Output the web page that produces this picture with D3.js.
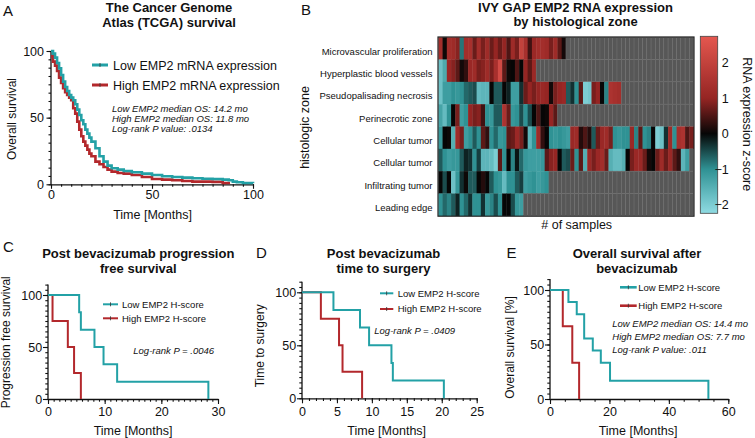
<!DOCTYPE html>
<html><head><meta charset="utf-8">
<script src="https://cdn.jsdelivr.net/npm/d3@7"></script>
<style>
body{margin:0;background:#fff;}
svg{display:block;font-family:"Liberation Sans",Arial,Helvetica,sans-serif;}
</style></head><body>
<svg id="c" width="755" height="438"></svg>
<script>
// ---------- DATA ----------
const tcgaLowTime  = [0,1,2,3,4,5,6,7,8,9,10,11,12,13,14,15,16,17,18,19,20,22,24,26,28,30,33,36,40,45,50,55,60,65,70,75,80,85,88,90,92,95,100];
const tcgaLowSurv  = [100,98,95,91,87,82,77,73,70,67,65,63,60,56,52,48,45,41,38,35,32,27,21,17,14,12,11,10,9,8,7,6,5.5,5,4.5,4.2,4,3.5,3,2,1.5,1,0.8];
const tcgaHighTime = [0,1,2,3,4,5,6,7,8,9,10,11,12,13,14,15,16,17,18,19,20,22,24,26,28,30,33,36,40,45,50,55,60,65,70,75,80,85,88];
const tcgaHighSurv = [96,92,89,85,80,76,72,69,67,65,63,57,53,47,41,36,32,29,26,23,21,17,15,13,11,9.5,8.5,8,7,5.5,4,3.5,3,2.5,2,2,1.8,1,0];

const pfsLowTime  = [0,5.5,5.8,8.2,9.8,12.2,28.3];
const pfsLowSurv  = [100,83.3,66.7,50,33.3,16.7,0];
const pfsHighTime = [0,0.8,3.5,4.6,5.8];
const pfsHighSurv = [100,75,50,25,0];

const ttsLowTime  = [0,4.5,8.3,9.6,12.8,13.0,20.3];
const ttsLowSurv  = [100,83.3,66.7,50,33.3,16.7,0];
const ttsHighTime = [0,2.7,5.3,5.8,8.6];
const ttsHighSurv = [100,75,50,25,0];

const osLowTime  = [0,6.2,9.0,11.5,14.4,17.1,20.2,53.3];
const osLowSurv  = [100,88.9,77.8,55.6,44.4,33.3,16.7,0];
const osHighTime = [0,4.3,7.5,9.8];
const osHighSurv = [100,66.7,33.3,0];

const zoneLabels = ["Microvascular proliferation","Hyperplastic blood vessels","Pseudopalisading necrosis","Perinecrotic zone","Cellular tumor","Cellular tumor","Infiltrating tumor","Leading edge"];
const zoneMicro   = [1.3,0.05,1.3,1.2,0.9,-0.8,1.3,1.4,0.7,1.3,0.8,1.2,0.7,1.0,0.7,1.0,0.5,1.2,0.8,2.0,1.4,0.4,1.1,1.3,1.3,1.2,0.8,1.2,0.6,0.1];
const zoneHyper   = [-1.8,-1.4,1.1,0.9,0.6,0.1,0.3,1.1,1.2,0.8,0.9,1.2,0.8,1.4,2.3,0.6,0.05,0.0,0.5,0.0,1.0,0.6,1.1];
const zonePseudo  = [-1.8,-1.2,-1.2,-1.0,-1.1,-1.0,-0.7,-0.6,-0.5,-1.7,-1.6,-1.6,0.0,-0.6,-0.6,0.0,-0.2,-1.2,-1.2,-0.3,0.7,1.0,0.8,1.0,1.1,1.0,0.1,0.8,1.0,1.1,-0.6,-0.3,-1.0,0.6,-2.0,-1.9,0.8,1.0,0.0,-0.9,1.5,1.4,1.3];
const zonePeri    = [-1.3,-1.7,-1.0,0.0,0.8,-1.2,-1.0,1.0,0.8,0.9,0.4,-1.0,-1.1,-0.6,-0.6,1.5,0.7,-1.1,-1.0,-0.5,-1.0,-0.5,0.0,0.5,0.0,0.05,1.0,0.6];
const zoneCell1   = [-1.1,0.0,0.05,-1.5,1.2,0.8,-1.2,-1.0,-0.6,-1.0,0.6,0.3,-1.0,-0.7,-1.1,-1.0,0.6,0.7,1.1,0.8,0.1,-1.6,-1.0,1.2,0.3,0.0,-1.0,-1.1,-1.0,-1.1,-1.2,1.1,1.2,0.2,0.5,0.2,-0.6,0.7,1.1,1.2,0.8,-1.0,-1.1,-1.0,-1.0,1.1,-0.9,0.6,-1.0,-0.9,0.0,-2.0,-1.8,-0.3,1.2,-1.0,1.4,1.5,0.5,0.8];
const zoneCell2   = [-0.6,-1.0,-1.2,-1.1,-1.1,-0.6,-0.2,-0.3,-1.0,-0.4,-1.6,-1.6,-1.7,-2.0,0.6,-1.0,0.0,-0.9,-0.1,-0.7,-1.1,-1.2,-1.2,-1.2,-1.1,0.6,0.9,1.0,0.0,-0.6,-0.5,0.7,-1.0,0.6,-1.5,1.1,0.8,1.1,1.3,0.7,-1.5,-1.7,-1.7,-1.5,0.0,0.8,1.1,1.1,0.7,0.1,0.0,0.7,1.2,0.7,1.1,0.6,0.3,-1.6,-1.2];
const zoneInfil   = [0.0,-0.5,0.0,-1.8,-1.1,-0.3,0.05,-0.6,-0.6,0.0,0.2,0.0,-0.6,-1.0,-1.1,-1.7,-1.0,-1.0,-0.6,-0.4,-1.2,-1.1,-1.0,-1.2,-1.1,-1.0];
const zoneLeading = [-1.0,-0.7,-0.9,-0.6,-0.2,-1.0,-0.7,-0.3,-1.0,-1.0,-0.3,-1.1,-0.9,-0.5,-1.0,0.0,0.0,-0.5,-1.1,-1.2];
const zoneRows = [zoneMicro,zoneHyper,zonePseudo,zonePeri,zoneCell1,zoneCell2,zoneInfil,zoneLeading];
const sampleSlots = 60;
const colorbarTicks = [2,1,0,-1,-2];
const colorDomain = [-2.24,-1,0,1,2.74];

// ---------- DRAW ----------
const TEAL="#23a1a6", RED="#b3282c";
const FONT='"Liberation Sans",Arial,Helvetica,sans-serif';
const svg=d3.select("#c");

function txt(x,y,s,o={}){
  const t=svg.append("text").attr("x",x).attr("y",y).text(s)
    .attr("font-size",o.size||12.5).attr("fill","#111")
    .attr("text-anchor",o.anchor||"start");
  if(o.bold) t.attr("font-weight","bold");
  if(o.italic) t.attr("font-style","italic");
  if(o.rot!==undefined) t.attr("transform",`rotate(${o.rot},${x},${y})`);
  return t;
}

function kmPanel(cfg){
  const x=d3.scaleLinear().domain([0,cfg.xMax]).range([cfg.x0,cfg.x1]);
  const y=d3.scaleLinear().domain([0,cfg.yMax]).range([cfg.y0,cfg.y1]);
  const g=svg.append("g");
  const gxm=g.append("g").attr("transform",`translate(0,${cfg.y0})`)
    .call(d3.axisBottom(x).tickValues(d3.range(0,cfg.xMax+0.001,cfg.xMinor)).tickSize(cfg.minorLen).tickFormat(""));
  gxm.select(".domain").remove();
  const gym=g.append("g").attr("transform",`translate(${cfg.x0},0)`)
    .call(d3.axisLeft(y).tickValues(d3.range(0,cfg.yMax+0.001,cfg.yMinor)).tickSize(cfg.minorLen).tickFormat(""));
  gym.select(".domain").remove();
  const gx=g.append("g").attr("transform",`translate(0,${cfg.y0})`)
    .call(d3.axisBottom(x).tickValues(cfg.xTicks).tickSize(cfg.majorLen).tickSizeOuter(0).tickPadding(cfg.xPad));
  const gy=g.append("g").attr("transform",`translate(${cfg.x0},0)`)
    .call(d3.axisLeft(y).tickValues([0,50,100]).tickSize(cfg.majorLen).tickSizeOuter(0).tickPadding(cfg.yPad));
  gy.select(".domain").attr("d",`M0,${y(0)}V${y(cfg.yMax)}`);
  g.selectAll(".tick line").attr("stroke","#111").attr("stroke-width",1.1);
  g.selectAll(".domain").attr("stroke","#111").attr("stroke-width",1.3);
  g.selectAll(".tick text").attr("font-family",FONT).attr("font-size",12.5).attr("fill","#111");
  const line=d3.line().x(d=>x(d[0])).y(d=>y(d[1])).curve(d3.curveStepAfter);
  [[cfg.hiT,cfg.hiS,RED],[cfg.loT,cfg.loS,TEAL]].forEach(([t,s,c])=>{
    g.append("path").datum(t.map((v,i)=>[v,s[i]])).attr("d",line)
      .attr("fill","none").attr("stroke",c).attr("stroke-width",cfg.lw).attr("stroke-linejoin","miter");
  });
  return {x,y};
}

function legendItem(x0,x1,y,color,label,lw,size,tx){
  svg.append("line").attr("x1",x0).attr("x2",x1).attr("y1",y).attr("y2",y).attr("stroke",color).attr("stroke-width",lw);
  const m=(x0+x1)/2;
  svg.append("line").attr("x1",m).attr("x2",m).attr("y1",y-2).attr("y2",y+2).attr("stroke","#333").attr("stroke-width",0.8);
  txt(tx,y+size*0.36,label,{size});
}

// ----- Panel A -----
txt(3,15.5,"A",{size:15});
txt(169,12,"The Cancer Genome",{size:13,bold:true,anchor:"middle"});
txt(169,27,"Atlas (TCGA) survival",{size:13,bold:true,anchor:"middle"});
kmPanel({x0:51,x1:253,y0:184.3,y1:51,xMax:100,yMax:100,xTicks:[0,50,100],xMinor:5,yMinor:6.25,
  majorLen:4.5,minorLen:2.5,xPad:1,yPad:2.5,lw:2.6,
  loT:tcgaLowTime,loS:tcgaLowSurv,hiT:tcgaHighTime,hiS:tcgaHighSurv});
txt(16,119,"Overall survival",{size:12,anchor:"middle",rot:-90});
txt(152.5,219,"Time [Months]",{size:12.5,anchor:"middle"});
legendItem(92,108,65,TEAL,"Low EMP2 mRNA expression",3,12.5,113);
legendItem(92,108,85,RED,"High EMP2 mRNA expression",3,12.5,113);
txt(112,111.5,"Low EMP2 median OS: 14.2 mo",{size:9.5,italic:true});
txt(112,121.5,"High EMP2 median OS: 11.8 mo",{size:9.5,italic:true});
txt(112,131.5,"Log-rank P value: .0134",{size:9.5,italic:true});

// ----- Panel C -----
txt(3,251.5,"C",{size:15});
txt(138.3,257.7,"Post bevacizumab progression",{size:13,bold:true,anchor:"middle"});
txt(138.3,272.7,"free survival",{size:13,bold:true,anchor:"middle"});
kmPanel({x0:48,x1:218,y0:399,y1:284.6,xMax:30,yMax:110,xTicks:[0,10,20,30],xMinor:1,yMinor:5,
  majorLen:5,minorLen:2.7,xPad:3.6,yPad:0.8,lw:2,
  loT:pfsLowTime,loS:pfsLowSurv,hiT:pfsHighTime,hiS:pfsHighSurv});
txt(10.5,342.3,"Progression free survival",{size:12,anchor:"middle",rot:-90});
txt(133,435,"Time [Months]",{size:12.5,anchor:"middle"});
legendItem(103,118,304.3,TEAL,"Low EMP2 H-score",2,9.5,122);
legendItem(103,118,318.3,RED,"High EMP2 H-score",2,9.5,122);
txt(133.3,354,"Log-rank P = .0046",{size:9.5,italic:true});

// ----- Panel D -----
txt(256,258,"D",{size:15});
txt(383.5,258,"Post bevacizumab",{size:13,bold:true,anchor:"middle"});
txt(383.5,273,"time to surgery",{size:13,bold:true,anchor:"middle"});
kmPanel({x0:302,x1:476.7,y0:398.3,y1:281.7,xMax:25,yMax:110,xTicks:[0,5,10,15,20,25],xMinor:1,yMinor:5,
  majorLen:5,minorLen:2.7,xPad:4.3,yPad:0.8,lw:2,
  loT:ttsLowTime,loS:ttsLowSurv,hiT:ttsHighTime,hiS:ttsHighSurv});
txt(264.3,345.8,"Time to surgery",{size:12,anchor:"middle",rot:-90});
txt(386.7,435,"Time [Months]",{size:12.5,anchor:"middle"});
legendItem(380,393.3,293.3,TEAL,"Low EMP2 H-score",2,9.5,397.7);
legendItem(380,393.3,309,RED,"High EMP2 H-score",2,9.5,397.7);
txt(374.3,334,"Log-rank P = .0409",{size:9.5,italic:true});

// ----- Panel E -----
txt(506.5,258,"E",{size:15});
txt(637,258,"Overall survival after",{size:13,bold:true,anchor:"middle"});
txt(637,273,"bevacizumab",{size:13,bold:true,anchor:"middle"});
kmPanel({x0:550,x1:728.3,y0:399,y1:279.1,xMax:60,yMax:110,xTicks:[0,20,40,60],xMinor:5,yMinor:5,
  majorLen:5,minorLen:2.7,xPad:3.6,yPad:0.8,lw:2,
  loT:osLowTime,loS:osLowSurv,hiT:osHighTime,hiS:osHighSurv});
txt(514,347.5,"Overall survival [%]",{size:12,anchor:"middle",rot:-90});
txt(638,435,"Time [Months]",{size:12.5,anchor:"middle"});
legendItem(620,636.7,287.3,TEAL,"Low EMP2 H-score",2.6,9.5,638.3);
legendItem(620,636.7,305.7,RED,"High EMP2 H-score",2.6,9.5,638.3);
txt(612.3,326.8,"Low EMP2 median OS: 14.4 mo",{size:9.5,italic:true});
txt(612.3,340,"High EMP2 median OS: 7.7 mo",{size:9.5,italic:true});
txt(612.3,352.8,"Log-rank P value: .011",{size:9.5,italic:true});

// ----- Panel B (heatmap) -----
txt(301,15,"B",{size:15});
txt(575.5,12,"IVY GAP EMP2 RNA expression",{size:13,bold:true,anchor:"middle"});
txt(575.5,26,"by histological zone",{size:13,bold:true,anchor:"middle"});
const color=d3.scaleLinear().domain(colorDomain)
  .range(["#8fdbe2","#2f9294","#060606","#952523","#e4574f"]).clamp(true);
const hx=d3.scaleBand().domain(d3.range(sampleSlots)).range([438.3,693.6]);
const hy=d3.scaleBand().domain(d3.range(zoneRows.length)).range([37.2,215.8]);
const hg=svg.append("g");
zoneRows.forEach((row,r)=>{
  d3.range(sampleSlots).forEach(c=>{
    const has=c<row.length;
    hg.append("rect").attr("x",hx(c)).attr("y",hy(r))
      .attr("width",hx.bandwidth()+(has?0.4:0)).attr("height",hy.bandwidth()+(has?0.3:0))
      .attr("fill",has?color(row[c]):"#575757")
      .attr("stroke",has?"none":"#6e6e6e").attr("stroke-width",0.5);
  });
});
hg.append("rect").attr("x",438).attr("y",37).attr("width",256).attr("height",179.2)
  .attr("fill","none").attr("stroke","#222").attr("stroke-width",1.2);
zoneLabels.forEach((l,r)=>{
  txt(432.5,hy(r)+hy.bandwidth()/2+6.3,l,{size:9.5,anchor:"end"});
});
txt(309,127.5,"histologic zone",{size:12.5,anchor:"middle",rot:-90});
txt(576.7,228.5,"# of samples",{size:12.5,anchor:"middle"});

// colorbar
const cb=d3.scaleLinear().domain([colorDomain[0],colorDomain[4]]).range([213.3,36.3]);
const defs=svg.append("defs");
const grad=defs.append("linearGradient").attr("id","cbg").attr("x1",0).attr("x2",0).attr("y1",1).attr("y2",0);
d3.range(0,1.0001,0.05).forEach(f=>{
  const v=colorDomain[0]+f*(colorDomain[4]-colorDomain[0]);
  grad.append("stop").attr("offset",f).attr("stop-color",color(v));
});
svg.append("rect").attr("x",700.3).attr("y",36.3).attr("width",17.4).attr("height",177)
  .attr("fill","url(#cbg)").attr("stroke","#444").attr("stroke-width",0.8);
const gcb=svg.append("g").attr("transform","translate(717.7,0)")
  .call(d3.axisRight(cb).tickValues(colorbarTicks).tickSize(0).tickFormat(d3.format("d")));
gcb.select(".domain").remove();
gcb.selectAll(".tick text").attr("font-family",FONT).attr("font-size",12.5).attr("fill","#111")
  .attr("text-anchor","end").attr("x",11);
txt(742.5,124.2,"RNA expression z-score",{size:12.5,anchor:"middle",rot:90});
</script></body></html>
